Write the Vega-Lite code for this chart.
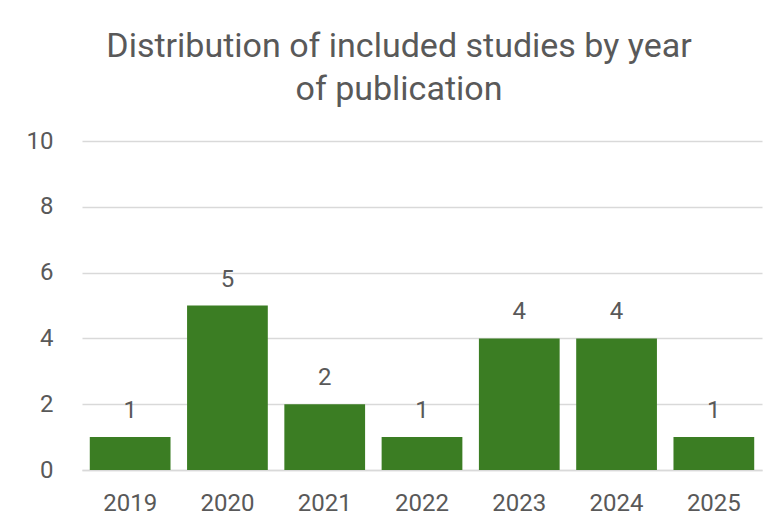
{
  "$schema": "https://vega.github.io/schema/vega-lite/v6.json",
  "width": 680,
  "height": 329,
  "autosize": {"type": "none"},
  "padding": {"left": 82, "top": 141, "right": 18, "bottom": 60},
  "background": "white",
  "config": {
    "view": {"stroke": null},
    "font": "Roboto"
  },
  "title": {
    "text": ["Distribution of included studies by year", "of publication"],
    "font": "Roboto",
    "fontSize": 34,
    "fontWeight": "normal",
    "color": "#595959",
    "anchor": "middle",
    "dx": -23,
    "offset": -12,
    "lineHeight": 43,
    "baseline": "bottom"
  },
  "data": {
    "values": [
      {"year": "2019", "count": 1},
      {"year": "2020", "count": 5},
      {"year": "2021", "count": 2},
      {"year": "2022", "count": 1},
      {"year": "2023", "count": 4},
      {"year": "2024", "count": 4},
      {"year": "2025", "count": 1}
    ]
  },
  "encoding": {
    "x": {
      "field": "year",
      "type": "ordinal",
      "scale": {"paddingInner": 0.17, "paddingOuter": 0.08},
      "axis": {
        "title": null,
        "labelAngle": 0,
        "labelFontSize": 24,
        "labelColor": "#595959",
        "labelPadding": 21,
        "ticks": false,
        "domainColor": "#d9d9d9",
        "domainWidth": 1.5
      }
    },
    "y": {
      "field": "count",
      "type": "quantitative",
      "scale": {"domain": [0, 10]},
      "axis": {
        "title": null,
        "values": [0, 2, 4, 6, 8, 10],
        "labelFontSize": 24,
        "labelColor": "#595959",
        "labelPadding": 29,
        "ticks": false,
        "domain": false,
        "gridColor": "#d9d9d9",
        "gridWidth": 1.5
      }
    }
  },
  "layer": [
    {"mark": {"type": "bar", "color": "#3b7d23"}},
    {
      "mark": {"type": "text", "dy": -14, "fontSize": 24, "color": "#595959", "baseline": "bottom"},
      "encoding": {"text": {"field": "count", "type": "quantitative"}}
    }
  ]
}
